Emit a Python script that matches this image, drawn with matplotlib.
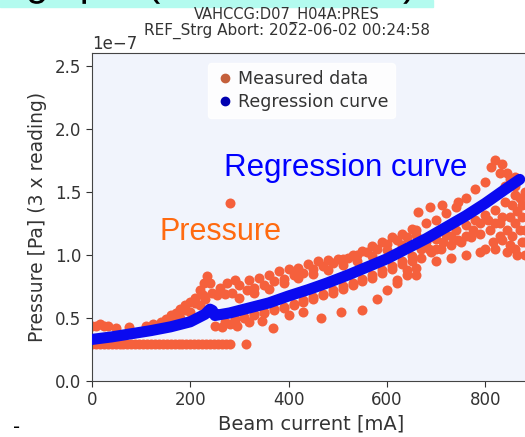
import matplotlib.pyplot as plt
import matplotlib.patheffects as pe
from matplotlib.patches import Rectangle
from matplotlib.lines import Line2D

# beam current [mA] and pressure [x1e-7 Pa]
flat_x = [0, 8, 16, 24, 32, 40, 48, 56, 64, 72, 80, 88, 96, 104, 112, 120, 128, 136, 144, 152,
          160, 168, 176, 184, 192, 200, 208, 216, 224, 232, 240, 248, 256, 264, 272, 280, 313]
flat_y = [0.29] * 36 + [0.29]

left_x = [0, 8, 16, 24, 32, 48, 75, 110, 125, 140, 150, 160, 170, 180, 190, 200, 210, 220,
          228, 234, 240, 245, 160, 180, 200, 220, 230, 250, 265, 280, 295, 170, 190, 210, 225]
left_y = [0.44, 0.44, 0.45, 0.44, 0.44, 0.42, 0.43, 0.44, 0.45, 0.47, 0.49, 0.52, 0.54, 0.57,
          0.60, 0.63, 0.66, 0.72, 0.78, 0.83, 0.78, 0.70, 0.47, 0.50, 0.55, 0.60, 0.65, 0.44,
          0.43, 0.45, 0.44, 0.50, 0.56, 0.62, 0.68]

mid_x = [260, 275, 290, 300, 320, 340, 360, 380, 400, 420, 440, 460, 480, 500, 520, 540, 560,
         580, 600, 620, 640, 660,
         300, 330, 360, 390, 420, 450, 480, 510, 540, 570, 600, 630,
         290, 310, 330, 350, 370, 390, 410, 430, 450, 470, 490, 510, 530, 550, 570, 590, 610, 630,
         320, 345, 369, 400, 430, 465, 507, 550, 580, 600, 620, 640, 660]
mid_y = [0.74, 0.78, 0.80, 0.76, 0.80, 0.82, 0.84, 0.87, 0.89, 0.90, 0.93, 0.95, 0.96, 0.97,
         0.98, 1.00, 1.02, 1.05, 1.09, 1.12, 1.14, 1.16,
         0.66, 0.70, 0.73, 0.78, 0.82, 0.85, 0.88, 0.92, 0.95, 0.99, 1.04, 1.08,
         0.46, 0.50, 0.52, 0.54, 0.56, 0.58, 0.60, 0.63, 0.65, 0.68, 0.70, 0.73, 0.76, 0.79,
         0.82, 0.86, 0.89, 0.93,
         0.47, 0.48, 0.42, 0.52, 0.55, 0.50, 0.55, 0.56, 0.65, 0.72, 0.78, 0.84, 0.90]

fill_x = [255, 270, 285, 315, 330, 350, 370, 390, 410, 430, 450, 470, 490, 510, 530, 550, 570,
          590, 610, 630, 650,
          270, 290, 310, 330, 350, 370, 390, 410, 430, 450, 470, 490, 510, 530, 550, 570, 590,
          610, 630, 650]
fill_y = [0.68, 0.69, 0.70, 0.72, 0.74, 0.76, 0.79, 0.81, 0.84, 0.86, 0.89, 0.91, 0.94, 0.97,
          1.00, 1.03, 1.07, 1.10, 1.14, 1.17, 1.21,
          0.47, 0.49, 0.51, 0.53, 0.55, 0.57, 0.59, 0.61, 0.64, 0.67, 0.69, 0.72, 0.75, 0.78,
          0.81, 0.84, 0.88, 0.91, 0.95, 0.99]

right_x = [664, 688, 712, 745, 281,
           660, 680, 700, 720, 740, 760, 780, 800, 812, 820, 835, 845, 860,
           650, 670, 690, 710, 730, 750, 770, 790, 810, 830, 850, 865, 875,
           680, 700, 720, 740, 760, 780, 800, 820, 840, 860,
           700, 730, 760, 790, 820, 845, 860, 875, 870, 855, 835, 640, 660, 620,
           800, 815, 830, 845, 860, 875, 880, 880, 880, 865, 850, 835, 820, 805, 790, 775,
           760, 745, 730, 715, 700, 685, 670, 870, 880, 855, 860, 850, 830, 840]
right_y = [1.34, 1.38, 1.40, 1.42, 1.41,
           1.20, 1.25, 1.28, 1.33, 1.38, 1.45, 1.52, 1.58, 1.70, 1.75, 1.72, 1.65, 1.62,
           0.95, 0.98, 1.02, 1.05, 1.08, 1.10, 1.14, 1.17, 1.20, 1.25, 1.30, 1.35, 1.40,
           1.10, 1.13, 1.16, 1.20, 1.24, 1.28, 1.32, 1.36, 1.42, 1.48,
           0.95, 0.98, 1.00, 1.02, 1.05, 1.02, 1.05, 1.10, 1.20, 1.15, 1.12, 0.88, 0.84, 0.80,
           1.05, 1.10, 1.15, 1.20, 1.25, 1.30, 1.20, 1.10, 1.00, 1.00, 1.08, 1.30, 1.25, 1.28,
           1.25, 1.20, 1.15, 1.12, 1.15, 1.10, 1.05, 1.05, 1.05, 1.45, 1.50, 1.40, 1.55, 1.60,
           1.65, 1.55]

reg_x = [0, 40, 80, 120, 160, 200, 230, 240, 245, 250, 280, 320, 360, 400, 440, 480, 520,
         560, 600, 640, 680, 720, 760, 800, 840, 870]
reg_y = [0.33, 0.35, 0.375, 0.40, 0.43, 0.47, 0.53, 0.57, 0.56, 0.52, 0.54, 0.58, 0.62,
         0.675, 0.725, 0.78, 0.84, 0.905, 0.97, 1.05, 1.13, 1.22, 1.31, 1.41, 1.52, 1.60]

meas_x = flat_x + left_x + mid_x + fill_x + right_x
meas_y = [v * 1e-7 for v in flat_y + left_y + mid_y + fill_y + right_y]
reg_p = [v * 1e-7 for v in reg_y]

orange = "#f5603c"
blue = "#0a0af0"
txt = "#333333"

fig = plt.figure(figsize=(5.25, 4.37), dpi=100)
ax = fig.add_axes([92 / 525, 56 / 437, 438 / 525, 328 / 437])
ax.set_facecolor("#f1f4fc")

ax.scatter(meas_x, meas_y, s=52, color=orange, linewidths=0, zorder=2)
ax.plot(reg_x, reg_p, color=blue, lw=8, solid_capstyle="round", zorder=3)

ax.set_xlim(0, 891)
ax.set_ylim(0, 2.603e-7)
ax.set_xticks([0, 200, 400, 600, 800])
ax.set_yticks([0, 0.5e-7, 1.0e-7, 1.5e-7, 2.0e-7, 2.5e-7])
ax.tick_params(labelsize=12, colors=txt, length=4)
ax.yaxis.get_offset_text().set_fontsize(12)
ax.yaxis.get_offset_text().set_color(txt)
for s in ax.spines.values():
    s.set_color("#444444")

ax.set_xlabel("Beam current [mA]", fontsize=14, color=txt, labelpad=4)
ax.set_ylabel("Pressure [Pa] (3 x reading)", fontsize=13.5, color=txt, labelpad=6)

handles = [Line2D([], [], marker="o", ls="", color="#c4603c", ms=6),
           Line2D([], [], marker="o", ls="", color="#0000b0", ms=6)]
leg = ax.legend(handles, ["Measured data", "Regression curve"], loc="upper left",
                bbox_to_anchor=(0.245, 0.995), fontsize=12.5, frameon=True, handletextpad=0.1,
                borderpad=0.4, labelspacing=0.3, handlelength=1.2)
leg.get_frame().set_edgecolor("white")
leg.get_frame().set_alpha(0.9)
for t in leg.get_texts():
    t.set_color(txt)

ax.text(517, 1.69e-7, "Regression curve", color="#0000ff", fontsize=22.5,
        family="Liberation Sans", ha="center", va="center")
ax.text(262, 1.18e-7, "Pressure", color="#ff6a10", fontsize=22,
        family="Liberation Sans", ha="center", va="center")

fig.text(287 / 525, 1 - 15 / 437, "VAHCCG:D07_H04A:PRES", fontsize=10.5, color=txt,
         ha="center", va="center")
fig.text(287 / 525, 1 - 31 / 437, "REF_Strg Abort: 2022-06-02 00:24:58", fontsize=11,
         color=txt, ha="center", va="center")

# slide remnants: highlighted heading strip at the top (only its descenders show), dash at bottom left
fig.patches.append(Rectangle((0, 1 - 7 / 437), 433 / 525, 7 / 437, transform=fig.transFigure,
                             color="#b3fbef", zorder=0))
fig.text(26 / 525, 1 + 4.5 / 437, "g spot (", fontsize=29, family="Liberation Sans",
         color="black", va="baseline", ha="left", path_effects=[pe.Normal()])
fig.text(403 / 525, 1 + 4.5 / 437, ")", fontsize=29, family="Liberation Sans",
         color="black", va="baseline", ha="left", path_effects=[pe.Normal()])
fig.text(13 / 525, 1 - 428 / 437, "-", fontsize=14, color="black", va="center")

fig.savefig("out.png", dpi=100)
